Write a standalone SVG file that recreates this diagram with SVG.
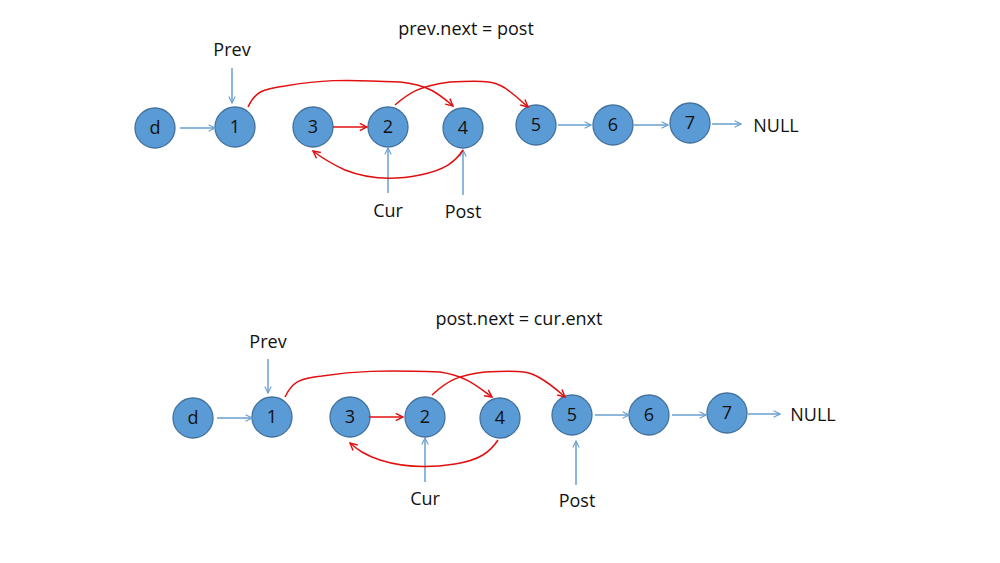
<svg xmlns="http://www.w3.org/2000/svg" width="1000" height="563" viewBox="0 0 1000 563">
<defs>
<marker id="ab" viewBox="0 0 10 10" refX="9" refY="5" markerWidth="8" markerHeight="8" markerUnits="userSpaceOnUse" orient="auto">
<path d="M1,1 L9,5 L1,9" fill="none" stroke="#6a9fcf" stroke-width="1.4"/>
</marker>
<marker id="ar" viewBox="0 0 10 10" refX="9" refY="5" markerWidth="9" markerHeight="9" markerUnits="userSpaceOnUse" orient="auto">
<path d="M1,1 L9,5 L1,9" fill="none" stroke="#e01010" stroke-width="1.6"/>
</marker>
</defs>
<style>
.n circle{fill:#5b9bd5;stroke:#41719c;stroke-width:1.3}
.n text,.t{font-family:"Open Sans","Noto Sans",sans-serif;font-size:18px;fill:#111}
.n text{text-anchor:middle}
.b{stroke:#6a9fcf;stroke-width:1.5;fill:none;marker-end:url(#ab)}
.r{stroke:#e01010;stroke-width:1.5;fill:none;marker-end:url(#ar)}
</style>
<rect width="1000" height="563" fill="#fff"/>
<text class="t" x="466" y="35" text-anchor="middle">prev.next = post</text>
<text class="t" x="519" y="325" text-anchor="middle">post.next = cur.enxt</text>
<g id="top-nodes">
<g id="t-d" class="n"><circle cx="155" cy="128" r="20"/><text x="155" y="134">d</text></g>
<g id="t-1" class="n"><circle cx="235" cy="127" r="20"/><text x="235" y="133">1</text></g>
<g id="t-3" class="n"><circle cx="313" cy="127" r="20"/><text x="313" y="133">3</text></g>
<g id="t-2" class="n"><circle cx="388" cy="127" r="20"/><text x="388" y="133">2</text></g>
<g id="t-4" class="n"><circle cx="463" cy="128" r="20"/><text x="463" y="134">4</text></g>
<g id="t-5" class="n"><circle cx="536" cy="125" r="20"/><text x="536" y="131">5</text></g>
<g id="t-6" class="n"><circle cx="613" cy="125" r="20"/><text x="613" y="131">6</text></g>
<g id="t-7" class="n"><circle cx="690" cy="123" r="20"/><text x="690" y="129">7</text></g>
<g id="t-null" class="n"><text x="776" y="132">NULL</text></g>
<g id="t-prev" class="n"><text x="232" y="56">Prev</text></g>
<g id="t-cur" class="n"><text x="388" y="217">Cur</text></g>
<g id="t-post" class="n"><text x="463" y="218">Post</text></g>
</g>
<g id="bottom-nodes">
<g id="b-d" class="n"><circle cx="193" cy="418" r="20"/><text x="193" y="424">d</text></g>
<g id="b-1" class="n"><circle cx="272" cy="417" r="20"/><text x="272" y="423">1</text></g>
<g id="b-3" class="n"><circle cx="350" cy="417" r="20"/><text x="350" y="423">3</text></g>
<g id="b-2" class="n"><circle cx="425" cy="417" r="20"/><text x="425" y="423">2</text></g>
<g id="b-4" class="n"><circle cx="500" cy="418" r="20"/><text x="500" y="424">4</text></g>
<g id="b-5" class="n"><circle cx="572" cy="415" r="20"/><text x="572" y="421">5</text></g>
<g id="b-6" class="n"><circle cx="649" cy="415" r="20"/><text x="649" y="421">6</text></g>
<g id="b-7" class="n"><circle cx="727" cy="413" r="20"/><text x="727" y="419">7</text></g>
<g id="b-null" class="n"><text x="813" y="421">NULL</text></g>
<g id="b-prev" class="n"><text x="268" y="348">Prev</text></g>
<g id="b-cur" class="n"><text x="425" y="505">Cur</text></g>
<g id="b-post" class="n"><text x="577" y="507">Post</text></g>
</g>
<g id="connectors">
<line class="b" x1="180" y1="128" x2="215" y2="128"/>
<line class="b" x1="558" y1="125" x2="591" y2="125"/>
<line class="b" x1="634" y1="125" x2="668" y2="125"/>
<line class="b" x1="712" y1="124" x2="741" y2="124"/>
<line class="b" x1="232" y1="68" x2="232" y2="103"/>
<line class="b" x1="388" y1="193" x2="388" y2="148"/>
<line class="b" x1="463" y1="195" x2="463" y2="150"/>
<line class="r" x1="333" y1="127" x2="367" y2="127"/>
<path class="r" d="M248,107 C255,92 262,89 285,86 C320,80 340,79 400,82 C430,85 440,95 453,106"/>
<path class="r" d="M395,105 C410,92 420,86 450,82 C490,80 495,82 505,88 C515,95 520,100 528,107"/>
<path class="r" d="M463,150 C455,162 445,170 420,175 C395,180 370,180 345,170 C330,163 322,158 313,151"/>

<line class="b" x1="217" y1="418" x2="252" y2="418"/>
<line class="b" x1="595" y1="415" x2="629" y2="415"/>
<line class="b" x1="672" y1="415" x2="706" y2="415"/>
<line class="b" x1="748" y1="414" x2="780" y2="414"/>
<line class="b" x1="268" y1="359" x2="268" y2="393"/>
<line class="b" x1="425" y1="482" x2="425" y2="438"/>
<line class="b" x1="576" y1="485" x2="576" y2="441"/>
<line class="r" x1="369" y1="417" x2="403" y2="417"/>
<path class="r" d="M285,397 C292,382 300,378 322,376 C355,371 380,370 440,372 C467,376 478,387 492,397"/>
<path class="r" d="M432,395 C447,381 458,375 485,372 C525,370 530,372 540,378 C552,385 557,390 565,397"/>
<path class="r" d="M498,440 C490,452 480,460 455,464 C430,468 405,468 380,460 C365,455 358,450 350,443"/>
</g>
</svg>
